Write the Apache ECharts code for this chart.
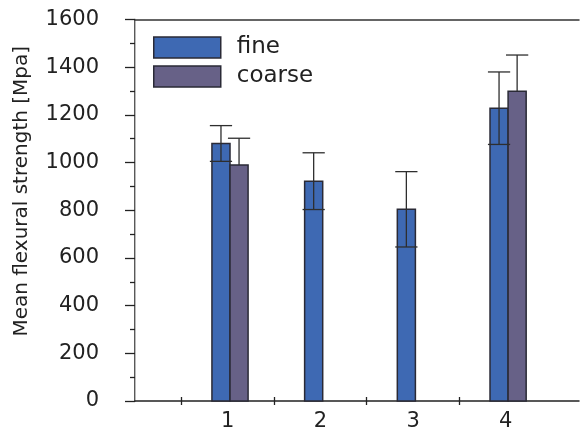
<!DOCTYPE html>
<html>
<head>
<meta charset="utf-8">
<script src="https://cdn.jsdelivr.net/npm/echarts@6/dist/echarts.min.js"></script>
<style>html,body{margin:0;padding:0;background:#fff}#c{width:580px;height:432px}</style>
</head>
<body>
<div id="c"></div>
<script>
// ---- data ----
var categories = [1, 2, 3, 4];
var fineMean   = [1080, 922, 804, 1228];
var fineErr    = [75, 119, 158, 152];
var coarseMean = [990, null, null, 1299];
var coarseErr  = [112, null, null, 152];
var yTicks     = [0, 200, 400, 600, 800, 1000, 1200, 1400, 1600];
var seriesNames = ['fine', 'coarse'];

var FONT = 'DejaVu Sans';
var fineColor = '#3e69b3';
var coarseColor = '#676187';
var edge = '#2a2a36';

function build(means, errs) {
  var out = [];
  for (var i = 0; i < categories.length; i++) {
    if (means[i] != null) out.push([categories[i], means[i], errs[i]]);
  }
  return out;
}
var fineData = build(fineMean, fineErr);
var coarseData = build(coarseMean, coarseErr);

function barRender(off0, off1, color) {
  return function (params, api) {
    var x = api.value(0), v = api.value(1);
    var p0 = api.coord([x + off0, v]);
    var p1 = api.coord([x + off1, 0]);
    return {
      type: 'rect',
      shape: { x: p0[0], y: p0[1], width: p1[0] - p0[0], height: p1[1] - p0[1] },
      style: { fill: color, stroke: edge, lineWidth: 1.5 }
    };
  };
}
function errRender(center, capHalf, both) {
  return function (params, api) {
    var x = api.value(0), v = api.value(1), e = api.value(2);
    var top = api.coord([x + center, v + e]);
    var mid = api.coord([x + center, v]);
    var low = api.coord([x + center, v - e]);
    var cl = api.coord([x + center - capHalf, v])[0];
    var cr = api.coord([x + center + capHalf, v])[0];
    var st = { stroke: '#2e2e2e', lineWidth: 1.3 };
    var ch = [
      { type: 'line', shape: { x1: top[0], y1: top[1], x2: (both ? low : mid)[0], y2: (both ? low : mid)[1] }, style: st },
      { type: 'line', shape: { x1: cl, y1: top[1], x2: cr, y2: top[1] }, style: st }
    ];
    if (both) ch.push({ type: 'line', shape: { x1: cl, y1: low[1], x2: cr, y2: low[1] }, style: st });
    return { type: 'group', children: ch };
  };
}

var fineOff = [-0.17, 0.025];
var coarseOff = [0.025, 0.22];

var chart = echarts.init(document.getElementById('c'), null, { renderer: 'canvas' });
chart.setOption({
  animation: false,
  backgroundColor: '#fff',
  textStyle: { fontFamily: FONT },
  grid: { left: 135, top: 19.5, right: 1, bottom: 27, containLabel: false },
  legend: {
    orient: 'vertical', left: 153, top: 36, padding: 0,
    itemWidth: 67, itemHeight: 21, itemGap: 6,
    data: seriesNames.map(function (n) { return { name: n, icon: 'rect' }; }),
    itemStyle: { borderColor: edge, borderWidth: 1.5 },
    textStyle: { fontFamily: FONT, fontSize: 23, color: '#222', padding: [0, 0, 0, 11] },
    selectedMode: false
  },
  xAxis: [
    {
      type: 'value', min: 0, max: 4.79, position: 'bottom',
      axisLine: { show: true, lineStyle: { color: '#222', width: 1.5 } },
      axisTick: { show: true, inside: false, length: 4, customValues: [0.5, 1.5, 2.5, 3.5], lineStyle: { color: '#222', width: 1.3 } },
      axisLabel: { customValues: categories, margin: 10, fontFamily: FONT, fontSize: 21, color: '#222' },
      splitLine: { show: false }
    },
    {
      type: 'value', min: 0, max: 4.79, position: 'bottom',
      axisLine: { show: false },
      axisTick: { show: true, inside: true, length: 4, customValues: [0.5, 1.5, 2.5, 3.5], lineStyle: { color: '#222', width: 1.3 } },
      axisLabel: { show: false },
      splitLine: { show: false }
    },
    {
      type: 'value', min: 0, max: 4.79, position: 'top',
      axisLine: { show: true, lineStyle: { color: '#333', width: 1.5 } },
      axisTick: { show: false }, axisLabel: { show: false }, splitLine: { show: false }
    }
  ],
  yAxis: [
    {
      type: 'value', min: 0, max: 1600, interval: 200, position: 'left',
      name: 'Mean flexural strength [Mpa]', nameLocation: 'middle', nameGap: 103,
      nameTextStyle: { fontFamily: FONT, fontSize: 20, color: '#222', padding: [0, 0, 0, 38] },
      axisLine: { show: true, lineStyle: { color: '#222', width: 1.5 } },
      axisTick: { show: true, inside: false, length: 10, lineStyle: { color: '#222', width: 1.3 } },
      minorTick: { show: true, splitNumber: 2, length: 5, lineStyle: { color: '#222', width: 1.3 } },
      axisLabel: { margin: 36, fontFamily: FONT, fontSize: 21, color: '#222',
        formatter: function (v) { return yTicks.indexOf(v) >= 0 ? String(v) : ''; } },
      splitLine: { show: false }
    },
    {
      type: 'value', min: 0, max: 1600, position: 'right',
      axisLine: { show: true, lineStyle: { color: '#bbb', width: 1 } },
      axisTick: { show: false }, axisLabel: { show: false }, splitLine: { show: false }
    }
  ],
  series: [
    { name: 'fine', type: 'custom', xAxisIndex: 0, yAxisIndex: 0, data: fineData,
      itemStyle: { color: fineColor, borderColor: edge, borderWidth: 1.5 },
      encode: { x: 0, y: 1 }, renderItem: barRender(fineOff[0], fineOff[1], fineColor), z: 2 },
    { name: 'coarse', type: 'custom', xAxisIndex: 0, yAxisIndex: 0, data: coarseData,
      itemStyle: { color: coarseColor, borderColor: edge, borderWidth: 1.5 },
      encode: { x: 0, y: 1 }, renderItem: barRender(coarseOff[0], coarseOff[1], coarseColor), z: 2 },
    { name: 'fineErr', type: 'custom', xAxisIndex: 0, yAxisIndex: 0, data: fineData,
      encode: { x: 0, y: 1 }, renderItem: errRender((fineOff[0] + fineOff[1]) / 2, 0.12, true), z: 3 },
    { name: 'coarseErr', type: 'custom', xAxisIndex: 0, yAxisIndex: 0, data: coarseData,
      encode: { x: 0, y: 1 }, renderItem: errRender((coarseOff[0] + coarseOff[1]) / 2, 0.12, false), z: 3 }
  ]
});
</script>
</body>
</html>
